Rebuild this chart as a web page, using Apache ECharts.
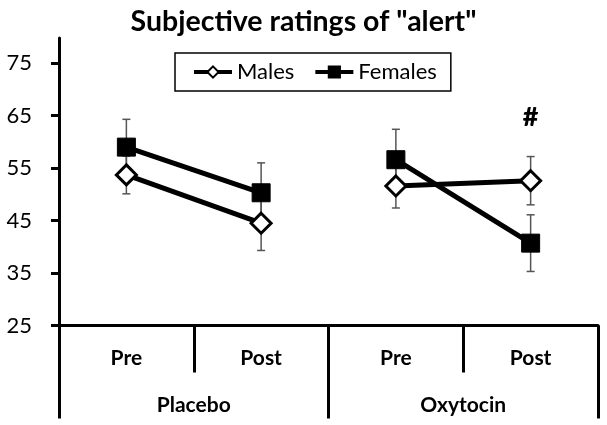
<!DOCTYPE html>
<html><head><meta charset="utf-8">
<script src="https://cdn.jsdelivr.net/npm/echarts@6/dist/echarts.min.js"></script>
<style>html,body{margin:0;padding:0;background:#fff}#c{width:607px;height:425px}</style>
</head><body><div id="c"></div>
<script>
const phases = ['Pre', 'Post', 'Pre', 'Post'];
const groups = ['Placebo', 'Oxytocin'];
const yTicks = [25, 35, 45, 55, 65, 75];
const malesMean = [53.7, 44.5, 51.6, 52.6];
const malesErr = [3.6, 5.2, 4.2, 4.6];
const femalesMean = [59.0, 50.3, 56.6, 40.7];
const femalesErr = [5.3, 5.7, 5.8, 5.4];
const annotation = { text: '#', category: 3, value: 64.6 };

const FONT = 'Lato';
function seg(arr, g) { return arr.map((v, i) => Math.floor(i / 2) === g ? v : '-'); }
function errData(m, e) { return m.map((v, i) => [i, v, e[i]]); }

function errRender(params, api) {
  const x = api.value(0), m = api.value(1), e = api.value(2);
  const t = api.coord([x, m + e]), b = api.coord([x, m - e]);
  const w = 4;
  const st = { stroke: '#555', lineWidth: 1.5 };
  return { type: 'group', children: [
    { type: 'line', shape: { x1: t[0], y1: t[1], x2: b[0], y2: b[1] }, style: st },
    { type: 'line', shape: { x1: t[0] - w, y1: t[1], x2: t[0] + w, y2: t[1] }, style: st },
    { type: 'line', shape: { x1: b[0] - w, y1: b[1], x2: b[0] + w, y2: b[1] }, style: st }
  ]};
}

const maleStyle = {
  type: 'line', name: 'Males', symbol: 'diamond', symbolSize: 20,
  lineStyle: { color: '#000', width: 5 },
  itemStyle: { color: '#fff', borderColor: '#000', borderWidth: 3 },
  z: 3, animation: false
};
const femaleStyle = {
  type: 'line', name: 'Females', symbol: 'rect', symbolSize: 18,
  lineStyle: { color: '#000', width: 5 },
  itemStyle: { color: '#000', borderColor: '#000', borderWidth: 1 },
  z: 4, animation: false
};

const chart = echarts.init(document.getElementById('c'), null, { renderer: 'canvas' });
chart.setOption({
  backgroundColor: '#fff',
  animation: false,
  title: {
    text: 'Subjective ratings of "alert"', left: 'center', top: 2,
    textStyle: { fontFamily: FONT, fontSize: 28.5, fontWeight: 'bold', color: '#000' }
  },
  legend: {
    data: ['Males', 'Females'], left: 175, top: 53,
    borderColor: '#000', borderWidth: 1.5, padding: [8, 14, 8, 17],
    itemGap: 19, itemWidth: 38, itemHeight: 14,
    lineStyle: { width: 4, color: '#000' },
    textStyle: { fontFamily: FONT, fontSize: 22, color: '#000' }
  },
  grid: { left: 59, right: 9, top: 38, bottom: 99.5, containLabel: false },
  xAxis: [
    {
      type: 'category', data: phases, position: 'bottom', boundaryGap: true,
      axisLine: { lineStyle: { color: '#000', width: 3 } },
      axisTick: { show: true, length: 47, alignWithLabel: false, lineStyle: { color: '#000', width: 3 } },
      axisLabel: { margin: 22, fontFamily: FONT, fontSize: 21, fontWeight: 'bold', color: '#000' }
    },
    {
      type: 'category', data: groups, position: 'bottom', boundaryGap: true,
      axisLine: { show: false },
      axisTick: { show: true, length: 93, lineStyle: { color: '#000', width: 3 } },
      axisLabel: { margin: 69, fontFamily: FONT, fontSize: 21, fontWeight: 'bold', color: '#000' }
    }
  ],
  yAxis: {
    type: 'value', min: 25, max: 79.8,
    axisLine: { show: true, lineStyle: { color: '#000', width: 3 } },
    axisTick: { show: true, length: 8, customValues: yTicks, lineStyle: { color: '#000', width: 3 } },
    axisLabel: { customValues: yTicks, margin: 27, fontFamily: FONT, fontSize: 22, color: '#000' },
    splitLine: { show: false }
  },
  series: [
    { type: 'custom', name: 'errM', renderItem: errRender, data: errData(malesMean, malesErr), encode: { x: 0, y: 1 }, z: 1, silent: true },
    { type: 'custom', name: 'errF', renderItem: errRender, data: errData(femalesMean, femalesErr), encode: { x: 0, y: 1 }, z: 1, silent: true },
    Object.assign({}, maleStyle, { data: seg(malesMean, 0) }),
    Object.assign({}, maleStyle, { data: seg(malesMean, 1) }),
    Object.assign({}, femaleStyle, { data: seg(femalesMean, 0) }),
    Object.assign({}, femaleStyle, { data: seg(femalesMean, 1) }),
    {
      type: 'scatter', name: 'annotation', symbol: 'circle', symbolSize: 2,
      itemStyle: { color: 'rgba(0,0,0,0)', opacity: 1 }, silent: true,
      label: { show: true, position: 'inside', formatter: annotation.text, fontFamily: FONT, fontSize: 27, fontWeight: 900, color: '#000', opacity: 1 },
      data: [[annotation.category, annotation.value]]
    }
  ]
});
</script></body></html>
